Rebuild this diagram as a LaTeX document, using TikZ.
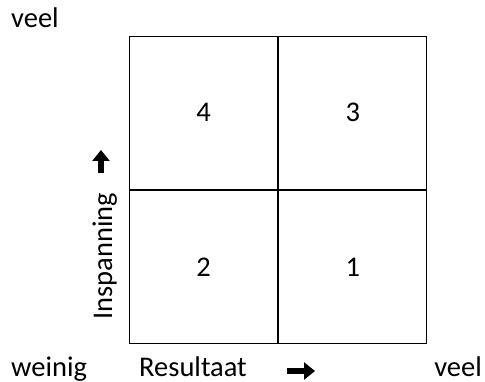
\documentclass[tikz,border=0pt]{standalone}
\usepackage{fontspec}
\setmainfont{Carlito}
\usetikzlibrary{matrix,arrows.meta}
\tikzstyle{tekst} = [inner sep=0pt, font=\fontsize{28.5}{34}\selectfont]
\tikzstyle{vak} = [draw=black, line width=1.2pt, outer sep=0pt, inner sep=0pt, minimum width=148pt, minimum height=153pt]
\tikzstyle{pijl} = [line width=6pt, -{Triangle[length=11pt,width=17pt]}]
\begin{document}
\begin{tikzpicture}[x=1pt,y=1pt]%
				\useasboundingbox (0,0) rectangle (485,381);
				\matrix (mat) at (129,37) [matrix of nodes, ampersand replacement=\&, nodes={vak, tekst},
				anchor=south west, inner sep=0pt, outer sep=0pt,
				column sep=0pt, row sep=0pt] { 4 \& 3 \\
	 2 \& 1 \\
					};
				\node[tekst, anchor=base west] (veelboven) at (11,353) {veel};
				\node[tekst, anchor=base west] (weinig) at (11,5) {weinig};
				\node[tekst, anchor=base west] (resultaat) at (139,5) {Resultaat};
				\node[tekst, anchor=base east] (veelrechts) at (482,5) {veel};
				\node[tekst, rotate=90, anchor=base] (inspanning) at (112,125) {Inspanning};
				\coordinate (rstart) at (287,10);
				\coordinate (reind) at (315,10);
				\coordinate (istart) at (101,208);
				\coordinate (ieind) at (101,231);
				\draw[pijl] (rstart) -- (reind);
				\draw[pijl] (istart) -- (ieind);
	\end{tikzpicture}
\end{document}
